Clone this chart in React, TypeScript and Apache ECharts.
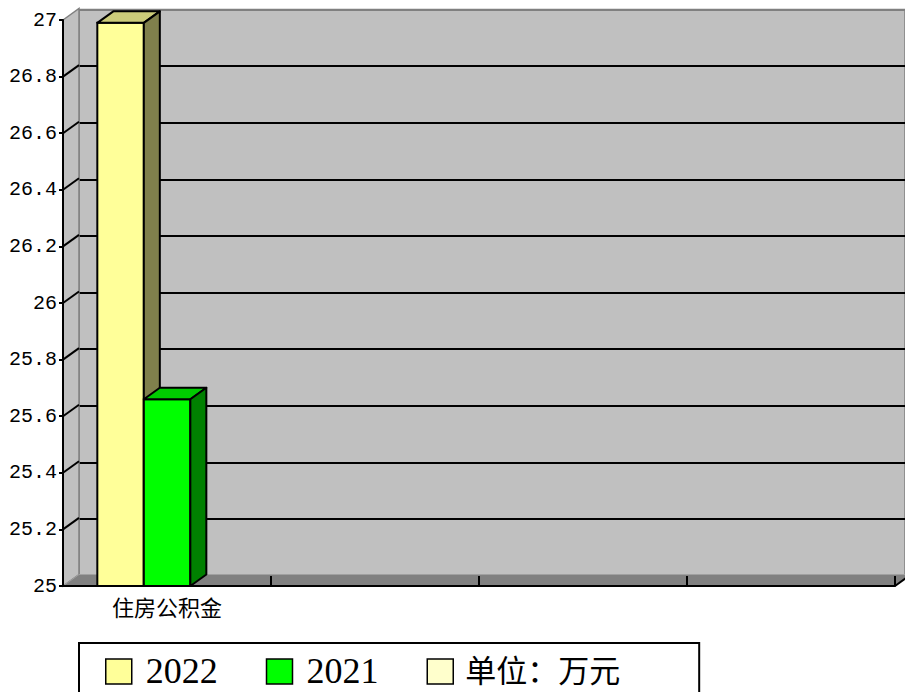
import React, { useEffect, useRef } from 'react';
import * as echarts from 'echarts';

const categories = ['住房公积金', '', '', ''];
const values2022 = [26.99];
const values2021 = [25.66];
const seriesNames = ['2022', '2021'];
const unitLabel = '单位：万元';
const yMin = 25;
const yMax = 27;
const yInterval = 0.2;
const yTicks = [25, 25.2, 25.4, 25.6, 25.8, 26, 26.2, 26.4, 26.6, 26.8, 27];

const DX = 16;
const DY = -11.5;

const makeBarRender = (slot: number, colors: { front: string; top: string; side: string }) =>
  (params: any, api: any) => {
    const cat = api.value(0);
    const v = api.value(1);
    const band = api.size([1, 0])[0];
    const c = api.coord([cat, v]);
    const b = api.coord([cat, yMin]);
    const bw = band * 0.2236;
    const x0 = c[0] - band / 2 + band * 0.165 + slot * bw;
    const x1 = x0 + bw;
    const yt = c[1];
    const yb = b[1];
    return {
      type: 'group',
      children: [
        { type: 'rect', shape: { x: x0, y: yt, width: bw, height: yb - yt }, style: { fill: colors.front, stroke: '#000', lineWidth: 2 } },
        { type: 'polygon', shape: { points: [[x0, yt], [x0 + DX, yt + DY], [x1 + DX, yt + DY], [x1, yt]] }, style: { fill: colors.top, stroke: '#000', lineWidth: 2, lineJoin: 'round' } },
        { type: 'polygon', shape: { points: [[x1, yt], [x1 + DX, yt + DY], [x1 + DX, yb + DY], [x1, yb]] }, style: { fill: colors.side, stroke: '#000', lineWidth: 2, lineJoin: 'round' } },
      ],
    };
  };

const renderWalls = (params: any, api: any) => {
  const band = api.size([1, 0])[0];
  const base = api.coord([0, yMin]);
  const topP = api.coord([0, yMax]);
  const x0 = base[0] - band / 2;
  const x1 = x0 + band * categories.length;
  const yb = base[1];
  const yt = topP[1];
  const children: any[] = [
    { type: 'polygon', shape: { points: [[x0, yt], [x0 + DX, yt + DY], [x0 + DX, yb + DY], [x0, yb]] }, style: { fill: '#C0C0C0', stroke: '#808080', lineWidth: 1.5 } },
    { type: 'polygon', shape: { points: [[x0, yb], [x0 + DX, yb + DY], [x1 + DX, yb + DY], [x1, yb]] }, style: { fill: '#808080', stroke: '#A0A0A0', lineWidth: 1 } },
  ];
  yTicks.forEach((t, i) => {
    if (i === 0 || i === yTicks.length - 1) return;
    const p = api.coord([0, t]);
    children.push({ type: 'line', shape: { x1: x0, y1: p[1], x2: x0 + DX, y2: p[1] + DY }, style: { stroke: '#000', lineWidth: 2 } });
  });
  children.push({ type: 'line', shape: { x1: x1, y1: yb, x2: x1 + DX, y2: yb + DY }, style: { stroke: '#000', lineWidth: 2 } });
  return { type: 'group', children };
};

const backSplitColors = yTicks.map((t, i) => (i === yTicks.length - 1 || i === 0 ? '#808080' : '#000000'));

export default function App() {
  const ref = useRef<HTMLDivElement>(null);
  useEffect(() => {
    if (!ref.current) return;
    const chart = echarts.init(ref.current, undefined, { renderer: 'svg' });
    chart.setOption({
      animation: false,
      backgroundColor: '#ffffff',
      grid: [
        { left: 79, top: 9.5, width: 832, height: 566, show: true, backgroundColor: '#C0C0C0', borderColor: '#808080', borderWidth: 1.5, z: 0 },
        { left: 63, top: 20, width: 832, height: 566 },
      ],
      xAxis: [
        { type: 'category', gridIndex: 0, data: categories, axisLine: { show: false }, axisTick: { show: false }, axisLabel: { show: false }, splitLine: { show: false } },
        {
          type: 'category', gridIndex: 1, data: categories, z: 3,
          axisLine: { show: true, lineStyle: { color: '#000', width: 2 } },
          axisTick: { show: true, inside: true, length: 10, interval: 0, lineStyle: { color: '#000', width: 2 } },
          axisLabel: { show: true, interval: 0, margin: 9, color: '#000', fontSize: 22, fontFamily: "'Noto Sans CJK SC'" },
          splitLine: { show: false },
        },
      ],
      yAxis: [
        {
          type: 'value', gridIndex: 0, min: yMin, max: yMax, interval: yInterval,
          axisLine: { show: false }, axisTick: { show: false }, axisLabel: { show: false },
          splitLine: { show: true, lineStyle: { color: backSplitColors, width: 2 } },
        },
        {
          type: 'value', gridIndex: 1, min: yMin, max: yMax, interval: yInterval, z: 3,
          axisLine: { show: true, lineStyle: { color: '#000', width: 2 } },
          axisTick: { show: true, length: 4, lineStyle: { color: '#000', width: 2 } },
          axisLabel: { show: true, margin: 6, color: '#000', fontSize: 20, fontFamily: "'Liberation Mono'" },
          splitLine: { show: false },
        },
      ],
      legend: {
        data: [seriesNames[0], seriesNames[1], unitLabel],
        left: 79,
        top: 643,
        orient: 'horizontal',
        icon: 'rect',
        itemWidth: 26,
        itemHeight: 25,
        itemGap: 48,
        selectedMode: false,
        padding: [10, 79, 40, 26],
        borderColor: '#000',
        borderWidth: 2,
        backgroundColor: '#fff',
        itemStyle: { borderColor: '#000', borderWidth: 1.5 },
        formatter: (name: string) => (name === unitLabel ? `{c| ${name}}` : `{n| ${name}}`),
        textStyle: {
          color: '#000',
          fontSize: 35,
          lineHeight: 34,
          fontFamily: "'Liberation Serif'",
          rich: {
            n: { fontSize: 36, lineHeight: 34, fontFamily: "'Liberation Serif'", color: '#000' },
            c: { fontSize: 31, lineHeight: 31, padding: [0, 0, 6, 0], fontFamily: "'Noto Sans CJK SC'", color: '#000' },
          },
        },
      },
      series: [
        {
          type: 'custom', name: 'walls', xAxisIndex: 1, yAxisIndex: 1, z: 1, silent: true,
          renderItem: renderWalls, data: [[0, yMin]],
        },
        {
          type: 'custom', name: seriesNames[0], xAxisIndex: 1, yAxisIndex: 1, z: 4,
          itemStyle: { color: '#FFFF99' },
          renderItem: makeBarRender(0, { front: '#FFFF99', top: '#CCCC7A', side: '#80804C' }),
          data: values2022.map((v, i) => [i, v]),
        },
        {
          type: 'custom', name: seriesNames[1], xAxisIndex: 1, yAxisIndex: 1, z: 4,
          itemStyle: { color: '#00FF00' },
          renderItem: makeBarRender(1, { front: '#00FF00', top: '#00CC00', side: '#008000' }),
          data: values2021.map((v, i) => [i, v]),
        },
        {
          type: 'custom', name: unitLabel, xAxisIndex: 1, yAxisIndex: 1,
          itemStyle: { color: '#FFFFCC' },
          renderItem: () => ({ type: 'group', children: [] }),
          data: [],
        },
      ],
    });
    return () => chart.dispose();
  }, []);
  return <div ref={ref} style={{ position: 'absolute', left: 0, top: 0, width: 905, height: 692 }} />;
}
